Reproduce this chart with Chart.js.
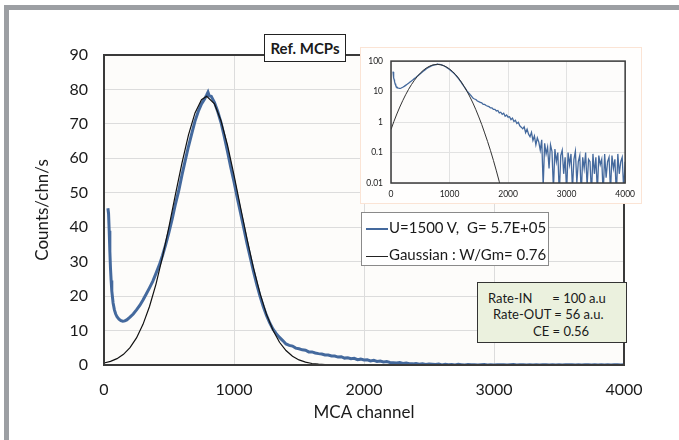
<!DOCTYPE html>
<html>
<head>
<meta charset="utf-8">
<script src="https://cdn.jsdelivr.net/npm/chart.js@4.4.1/dist/chart.umd.min.js"></script>
<style>
body{margin:0;width:679px;height:440px;position:relative;overflow:hidden;background:#fff;font-family:Lato,"Open Sans",sans-serif;color:#1a1a1a}
#frame{position:absolute;left:4px;top:5px;right:0;bottom:0;border-top:5px solid #9c9fa3;border-left:5px solid #9c9fa3}
#main{position:absolute;left:0;top:0}
#insetBox{position:absolute;left:360px;top:47px;width:280px;height:155px;border:1px solid #fbe4d5;background:#fffefd}
#inset{position:absolute;left:0;top:0}
#title{position:absolute;left:264px;top:34px;width:80px;height:26px;border:1px solid #222;background:#fff;font-weight:bold;font-size:15px;line-height:26px;text-align:center}
#legend{position:absolute;left:361px;top:212px;width:186px;height:52px;border:1px solid #8a8a8a;background:#fff;font-size:15px}
#legend .row{position:absolute;left:4px;height:20px;line-height:20px;white-space:pre}
#legend .sw{display:inline-block;width:22px;vertical-align:middle;margin-right:1px}
#rates{position:absolute;left:477px;top:282px;width:148px;height:59px;border:1px solid #333;background:#ebf1de;font-size:13px}
#rates div{position:absolute;white-space:pre;line-height:16px}
</style>
</head>
<body>
<div id="frame"></div>
<canvas id="main" width="679" height="440"></canvas>
<div id="insetBox"><canvas id="inset" width="280" height="155"></canvas></div>
<div id="title">Ref. MCPs</div>
<div id="legend">
<div class="row" style="top:4px"><span class="sw" style="border-top:2px solid #44699d"></span>U=1500 V,  G= 5.7E+05</div>
<div class="row" style="top:31px"><span class="sw" style="border-top:1px solid #222"></span>Gaussian : W/Gm= 0.76</div>
</div>
<div id="rates">
<div style="left:10px;top:7px">Rate-IN      = 100 a.u</div>
<div style="left:15px;top:23px">Rate-OUT = 56 a.u.</div>
<div style="left:55px;top:40px">CE = 0.56</div>
</div>
<script>
// measured spectrum (MCA channel, counts/chn/s)
const blueChannels=[30,35,40,45,50,55,60,70,80,90,100,115,130,145,160,175,200,225,250,275,
300,325,350,375,400,425,450,475,500,525,550,575,600,625,650,675,700,725,750,775,
790,800,810,825,850,875,900,925,950,975,1000,1025,1050,1075,1100,1125,1150,1175,1200,1225,
1250,1275,1300,1325,1350,1375,
1400,1425,1450,1475,1500,1525,1550,1575,1600,1625,1650,1675,1700,1725,1750,1775,1800,1825,1850,1875,
1900,1925,1950,1975,2000,2025,2050,2075,2100,2125,2150,2175,2200,2225,2250,2275,2300,2325,2350,2375,
2400,2425,2450,2475,2500,2525,2550,2575,2600,2625,2650,2675,2700,2725,2750,2775,2800,2825,2850,2875,
2900,2925,2950,2975,3000,3025,3050,3075,3100,3125,3150,3175,3200,3225,3250,3275,3300,3325,3350,3375,
3400,3425,3450,3475,3500,3525,3550,3575,3600,3625,3650,3675,3700,3725,3750,3775,3800,3825,3850,3875,
3900,3925,3950,3975,4000]
const blueCounts=[45.5,44,39,33,28,24.5,21.5,18,16,14.8,14,13.3,12.9,12.7,12.8,13.1,13.9,14.8,16,17.3,
18.9,20.6,22.4,24.3,26.6,29,31.8,35,38.6,42.5,46.8,50.6,55.2,59.4,63.5,67.2,70.8,73.6,75.8,77.3,
78.4,79.2,78.1,78,76.2,73.6,70.4,66.4,62,57.4,53.2,48.6,44.2,39.8,35.3,31.2,27.2,23.4,20,17,
14.4,12.2,10.4,9.1,8,7.1,
6.1,5.7,5.5,4.9,4.7,4.4,4.3,3.8,3.8,3.5,3.3,3.2,2.9,2.9,2.6,2.6,2.3,2.4,2.0,2.1,
1.8,1.95,1.55,1.7,1.45,1.5,1.2,1.35,1.05,1.15,0.9,0.98,0.75,0.68,0.6,0.7,0.45,0.58,0.4,0.33,
0.46,0.25,0.35,0.18,0.3,0.22,0.12,0.26,0.008,0.2,0.09,0.15,0.03,0.18,0.11,0.006,0.13,0.05,0.1,0.004,
0.08,0.12,0.02,0.07,0.005,0.1,0.04,0.09,0.006,0.06,0.11,0.01,0.05,0.08,0.004,0.07,0.03,0.1,0.008,0.06,
0.05,0.004,0.09,0.02,0.07,0.005,0.08,0.04,0.06,0.004,0.09,0.015,0.05,0.07,0.005,0.08,0.03,0.06,0.004,0.09,
0.02,0.05,0.07,0.006,0.05]

// gaussian fit
const gaussChannels=[0,50,100,150,200,250,300,350,400,450,500,550,600,650,700,750,790,850,900,950,
1000,1050,1100,1150,1200,1250,1300,1350,1400,1450,1500,1550,1600,1650,1700,1750,1800,1850,1900,2000]
const gaussCounts=[0.57,1.05,1.84,3.1,5.03,7.86,11.8,17,23.5,31.4,40.2,49.6,58.7,66.8,73.2,77,78,75.8,70.9,63.8,
55.1,45.8,36.6,28.1,20.8,14.7,10.1,6.6,4.2,2.53,1.47,0.83,0.44,0.23,0.115,0.055,0.025,0.011,0.0048,0.0008]

const xTicks=[0,1000,2000,3000,4000]
const yTicks=[0,10,20,30,40,50,60,70,80,90]
const insetYTicks=[0.01,0.1,1,10,100]

const F="Lato, 'Open Sans', sans-serif"

// plot area background + closed frame
const plotFrame={
id:"plotFrame",
beforeDraw(chart,args,opts){
let a=chart.chartArea,c=chart.ctx
c.save()
c.fillStyle=opts.bg
c.fillRect(a.left,a.top,a.right-a.left,a.bottom-a.top)
c.restore()
},
afterDraw(chart,args,opts){
let a=chart.chartArea,c=chart.ctx
c.save()
c.strokeStyle=opts.color
c.lineWidth=opts.width
c.strokeRect(a.left,a.top,a.right-a.left,a.bottom-a.top)
c.restore()
}
}

function pts(xs,ys){return xs.map((x,i)=>({x:x,y:ys[i]}))}
const plain=v=>String(v)

// MAIN CHART
new Chart(document.getElementById("main"),{
type:"line",
data:{datasets:[
{data:pts(gaussChannels,gaussCounts),borderColor:"#111",borderWidth:1.2,pointRadius:0},
{data:pts(blueChannels,blueCounts),borderColor:"#44699d",borderWidth:3,pointRadius:0}
]},
options:{
responsive:false,animation:false,
layout:{padding:{left:0,top:55,right:55,bottom:0}},
plugins:{legend:{display:false},tooltip:{enabled:false},plotFrame:{bg:"#fdfcfa",color:"#3a3a3a",width:2}},
scales:{
x:{type:"linear",min:0,max:4000,
afterBuildTicks:s=>{s.ticks=xTicks.map(v=>({value:v}))},
afterFit:s=>{s.height=75},
grid:{color:"#dcdcdc",drawTicks:false},border:{display:false},
ticks:{padding:15,color:"#1a1a1a",font:{family:F,size:16},callback:plain},
title:{display:true,text:"MCA channel",color:"#1a1a1a",font:{family:F,size:17},padding:{top:0,bottom:17}}},
y:{type:"linear",min:0,max:90,
afterBuildTicks:s=>{s.ticks=yTicks.map(v=>({value:v}))},
afterFit:s=>{s.width=104},
grid:{color:"#dcdcdc",drawTicks:false},border:{display:false},
ticks:{padding:16,color:"#1a1a1a",font:{family:F,size:16},callback:plain},
title:{display:true,text:"Counts/chn/s",color:"#1a1a1a",font:{family:F,size:17},padding:{top:32,bottom:0}}}
}
},
plugins:[plotFrame]
})

// INSET (log scale)
new Chart(document.getElementById("inset"),{
type:"line",
data:{datasets:[
{data:pts(gaussChannels,gaussCounts),borderColor:"#333",borderWidth:1,pointRadius:0},
{data:pts(blueChannels,blueCounts),borderColor:"#44699d",borderWidth:1.3,pointRadius:0}
]},
options:{
responsive:false,animation:false,
layout:{padding:{left:0,top:6,right:14,bottom:0}},
plugins:{legend:{display:false},tooltip:{enabled:false},plotFrame:{bg:"#fdfcfb",color:"#3a3a3a",width:1.5}},
scales:{
x:{type:"linear",min:0,max:4000,
afterBuildTicks:s=>{s.ticks=xTicks.map(v=>({value:v}))},
afterFit:s=>{s.height=20},
grid:{color:"#e2e2e2",drawTicks:false},border:{display:false},
ticks:{padding:6,color:"#1a1a1a",font:{family:F,size:8.5},callback:plain}},
y:{type:"logarithmic",min:0.01,max:100,
afterBuildTicks:s=>{s.ticks=insetYTicks.map(v=>({value:v}))},
afterFit:s=>{s.width=30},
grid:{color:"#e2e2e2",drawTicks:false},border:{display:false},
ticks:{padding:8,color:"#1a1a1a",font:{family:F,size:8.5},callback:plain}}
}
},
plugins:[plotFrame]
})
</script>
</body>
</html>
